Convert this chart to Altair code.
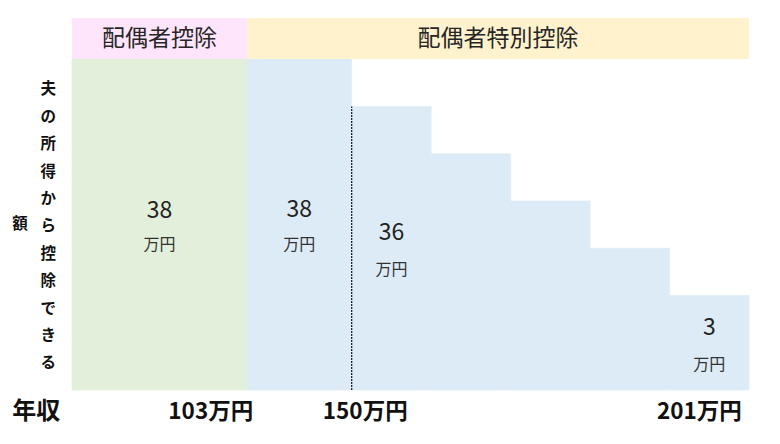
import altair as alt
import pandas as pd

FONT = "Noto Sans CJK JP"

# schematic step boundaries (x units) and step heights (y units)
edges = [0, 2.2, 3.52, 4.52, 5.52, 6.52, 7.52, 8.52]
levels = [7, 7, 6, 5, 4, 3, 2]
fills = ["#E2EFDA", "#DDEBF7", "#DDEBF7", "#DDEBF7", "#DDEBF7", "#DDEBF7", "#DDEBF7"]

# header bands
hdr_names = ["配偶者控除", "配偶者特別控除"]
hdr_x0 = [0, 2.2]
hdr_x1 = [2.2, 8.52]
hdr_colors = ["#FFE5FB", "#FFF2CC"]
hdr_y0, hdr_y1 = 7, 7.87

# amount labels
amt_text = ["38", "38", "36", "3"]
amt_seg = [0, 1, 2, 6]
amt_y = [3.78, 3.80, 3.32, 1.31]
unit_y = [3.07, 3.07, 2.54, 0.53]

# income labels
inc_text = ["103万円", "150万円", "201万円"]
inc_x = [2.28, 3.69, 8.43]
inc_align = ["right", "center", "right"]
inc_y = -0.465

bars = pd.DataFrame({
    "x0": edges[:-1], "x1": edges[1:], "y0": [0] * len(levels), "y1": levels, "c": fills,
})
hdr = pd.DataFrame({"name": hdr_names, "x0": hdr_x0, "x1": hdr_x1,
                    "y0": hdr_y0, "y1": hdr_y1, "c": hdr_colors})
hdr["xm"] = (hdr["x0"] + hdr["x1"]) / 2
hdr["ym"] = (hdr["y0"] + hdr["y1"]) / 2

amt = pd.DataFrame({
    "t": amt_text,
    "x": [(edges[s] + edges[s + 1]) / 2 for s in amt_seg],
    "y": amt_y,
    "uy": unit_y,
})

inc = pd.DataFrame({"t": inc_text, "x": inc_x, "y": inc_y, "a": inc_align})

xs = alt.Scale(domain=[0, 8.52], nice=False, zero=False)
ys = alt.Scale(domain=[0, 7.87], nice=False, zero=False)

def X(f):
    return alt.X(f, type="quantitative", scale=xs, axis=None)

def Y(f):
    return alt.Y(f, type="quantitative", scale=ys, axis=None)

bar_layer = alt.Chart(bars).mark_rect(strokeWidth=0.6).encode(
    x=X("x0"), x2="x1", y=Y("y0"), y2="y1",
    color=alt.Color("c:N", scale=None), stroke=alt.Stroke("c:N", scale=None)
)
hdr_layer = alt.Chart(hdr).mark_rect().encode(
    x=X("x0"), x2="x1", y=Y("y0"), y2="y1", color=alt.Color("c:N", scale=None)
)
hdr_text = alt.Chart(hdr).mark_text(font=FONT, fontSize=23, color="#262626").encode(
    x=X("xm"), y=Y("ym"), text="name:N"
)
divider = alt.Chart(pd.DataFrame({"x": [edges[2]], "y0": [0], "y1": [levels[2]]})).mark_rule(
    color="#111111", strokeDash=[2, 1], strokeWidth=1.2
).encode(x=X("x"), y=Y("y0"), y2="y1")

amt_layer = alt.Chart(amt).mark_text(font=FONT, fontSize=23, color="#222222").encode(
    x=X("x"), y=Y("y"), text="t:N"
)
unit_layer = alt.Chart(amt).mark_text(font=FONT, fontSize=16, color="#333333").encode(
    x=X("x"), y=Y("uy"), text=alt.value("万円")
)

inc_layers = [
    alt.Chart(inc[inc["a"] == a]).mark_text(font=FONT, fontSize=22.5, fontWeight="bold",
                                            color="#111111", align=a).encode(
        x=X("x"), y=Y("y"), text="t:N")
    for a in ["right", "center"]
]

nenshu = alt.Chart(pd.DataFrame({"t": ["年収"], "x": [-0.45], "y": [inc_y]})).mark_text(
    font=FONT, fontSize=24, fontWeight="bold", color="#111111"
).encode(x=X("x"), y=Y("y"), text="t:N")

vlabel = alt.Chart(pd.DataFrame({
    "t": ["\n".join("夫の所得から控除できる"), "額"],
    "x": [-0.30, -0.655],
    "y": [6.36, 3.51],
})).mark_text(font=FONT, fontSize=15.5, fontWeight="bold", color="#111111",
              lineBreak="\n", lineHeight=27.4, baseline="middle").encode(
    x=X("x"), y=Y("y"), text="t:N"
)

chart = alt.layer(
    bar_layer, hdr_layer, hdr_text, divider, amt_layer, unit_layer, *inc_layers, nenshu, vlabel
).properties(
    width=677, height=372,
    autosize=alt.AutoSizeParams(type="none"),
    padding={"left": 64, "top": 10, "right": 23, "bottom": 46},
).configure_view(stroke=None)

chart.save("out.html", embed_options={"renderer": "svg", "actions": False})
